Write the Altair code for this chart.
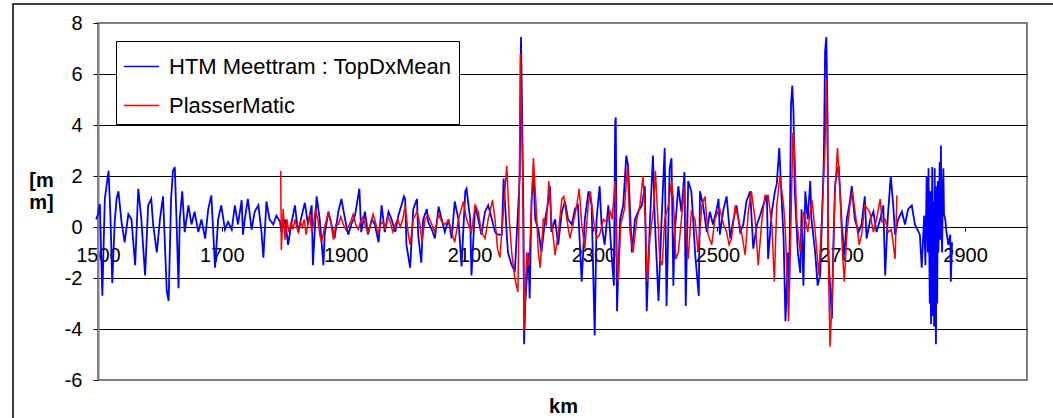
import altair as alt
import pandas as pd

BLUE_NAME = "HTM Meettram : TopDxMean"
RED_NAME = "PlasserMatic"

blue_km = [1497, 1500, 1503, 1507, 1511, 1517, 1520, 1523, 1527, 1530, 1533, 1538, 1543, 1549, 1554, 1560, 1562,
           1565, 1570, 1576, 1581, 1586, 1589, 1595, 1600, 1605, 1611, 1614, 1618, 1621, 1624, 1627, 1630, 1632,
           1636, 1640, 1646, 1651, 1656, 1662, 1667, 1673, 1678, 1683, 1689, 1694, 1699, 1705, 1710, 1716, 1721,
           1726, 1732, 1734, 1737, 1742, 1748, 1753, 1759, 1764, 1767, 1772, 1777, 1783, 1788, 1794, 1796, 1802,
           1807, 1812, 1818, 1823, 1829, 1834, 1839, 1845, 1847, 1853, 1858, 1864, 1866, 1872, 1877, 1882, 1888,
           1893, 1899, 1904, 1909, 1915, 1922, 1925, 1931, 1936, 1942, 1947, 1953, 1958, 1963, 1969, 1974, 1980,
           1985, 1990, 1994,
           1996, 1998, 2004, 2009, 2015, 2017, 2022, 2025, 2031, 2033, 2039, 2044, 2050, 2055, 2060, 2066, 2071,
           2076, 2082, 2087, 2093, 2095, 2101, 2103, 2109, 2114, 2119, 2125, 2130, 2136, 2141, 2146, 2152, 2155,
           2160, 2162, 2168, 2173, 2179, 2181, 2183, 2185, 2187, 2188, 2190, 2195, 2197, 2200, 2203, 2206, 2211,
           2216, 2222, 2227, 2230, 2232, 2238, 2243, 2249, 2254, 2259, 2265, 2270, 2275, 2281, 2286, 2292, 2297,
           2302, 2305, 2310, 2313, 2318, 2324, 2329, 2333, 2335, 2336, 2338, 2343, 2348, 2353, 2356, 2362, 2367,
           2372, 2378, 2383, 2386, 2391, 2396, 2399, 2405, 2410, 2415, 2418, 2423, 2426, 2429, 2431, 2437, 2442,
           2447, 2449, 2453, 2458, 2461, 2464, 2470, 2472, 2477, 2483, 2488, 2493, 2499,
           2502, 2504, 2510, 2515, 2521, 2526, 2531, 2537, 2542, 2547, 2553, 2558, 2564, 2569, 2574, 2580, 2582,
           2588, 2593, 2596, 2600, 2604, 2607, 2610, 2614, 2616, 2619, 2621, 2623, 2625, 2630, 2634, 2636, 2639,
           2642, 2646, 2650, 2652, 2658, 2662, 2666, 2669, 2672, 2674, 2676, 2678, 2679, 2682, 2685, 2687, 2690,
           2693, 2696, 2701, 2705, 2709, 2714, 2717, 2722, 2728, 2733, 2738, 2741, 2747, 2752, 2757, 2763, 2768,
           2771, 2775, 2780, 2784, 2787, 2792, 2798, 2803, 2808, 2814, 2819, 2825, 2827, 2830, 2834, 2836, 2838,
           2840, 2841, 2843, 2844, 2845, 2847, 2848, 2849, 2850, 2851, 2852, 2853, 2854, 2855, 2856, 2857, 2859,
           2860, 2861, 2862, 2863, 2864, 2865, 2866, 2868, 2870, 2873, 2876, 2877, 2879]
blue_mm = [0.3, 0.5, 0.9, -2.7, 1.1, 2.2, 0.5, -2.2, 0.2, 1.1, 1.4, 0.2, -0.6, 0.5, 0.3, -1.5, -0.3,
           1.5, 0.3, -1.9, 0.85, 1.1, 0.1, -1.0, 0.3, 1.2, -2.5, -2.9, 1.1, 2.2, 2.35, 0.1, -2.4, 0.3,
           1.4, -0.2, 0.85, 0.1, 0.6, -0.2, 0.3, -0.45, 0.7, 1.24, -1.6, 0.3, 0.85, -0.1, 0.2, -0.1, 0.85,
           0.1, 1.05, -0.3, 0.3, 1.1, -0.1, 0.6, 0.85, -0.2, -1.2, 1.0, 0.3, 0.1, 0.45, 0.2, -0.2, 0.3,
           -0.7, 0.1, 0.85, -0.2, 0.45, 0.95, 0.1, 0.85, -1.5, 1.2, 0.3, -1.5, -0.3, 0.6, 0.1, -0.45, 0.6,
           1.1, 0.3, -0.3, 0.1, 0.45, 1.5, -0.2, 0.6, -0.3, 0.3, 0.1, -0.6, 0.85, -0.2, 0.6, 0.3, -0.2,
           0.45, 0.85, 1.2,
           1.1, -0.7, -1.6, 0.7, 1.1, -0.3, -1.4, 0.3, 0.7, 0.2, -0.1, -0.45, 0.8, 0.3, -0.2, 0.3, -0.45,
           1.0, 0.3, -1.55, 1.4, 1.5, 0.3, -1.9, 0.85, 0.3, -0.3, 0.6, 0.85, 0.3, -0.2, -0.3, -0.3, 1.9,
           -0.3, -1.0, -1.5, -1.75, 1.0, 2.0, 7.45, 4.2, 0.3, -4.6, -2.95, -1.0, -2.8, 1.0, 2.15, 0.3, -0.1,
           -1.0, 0.3, 1.0, 1.6, -0.2, 0.3, -0.7, 0.6, 1.0, 0.3, 0.1, 0.7, 0.85, -2.15, 0.3, 1.4, 0.85,
           -4.25, 0.3, 1.6, 0.1, -0.7, 0.85, -1.0, -2.3, 4.1, 4.3, -3.3, 0.3, 0.85, 2.8, 2.4, -1.0, 0.3,
           0.6, 0.85, 1.6, -3.3, 0.1, 2.8, 0.3, -2.9, 0.3, 3.1, -3.1, 2.3, 2.7, -2.3, -0.3, 1.6, 0.6,
           2.15, -3.1, 1.8, 1.4, 0.3, -1.0, -2.7, 1.4, 0.85, -0.2, 0.6, 0.1, 0.7,
           1.1, -0.3, 0.7, 1.2, -0.45, 0.3, 0.85, -0.2, 0.1, 1.0, 1.4, -0.85, 0.1, 0.45, 0.85, 1.24, -1.25,
           0.6, 1.4, 1.7, 3.1, 1.0, -0.45, -3.7, -1.0, -2.55, 4.8, 5.55, 4.5, 1.4, -1.0, -1.8, 0.7, -2.3,
           1.4, 0.3, 1.8, 0.3, -1.0, -2.3, -1.9, 0.3, 2.7, 6.9, 7.45, 4.2, -1.0, -2.3, -3.6, -1.0, 1.6,
           2.15, 2.4, 0.1, -1.1, 0.3, 1.0, 1.6, 0.3, -0.2, 0.1, 1.2, -0.45, 0.3, 0.6, -0.2, 0.3, 0.85,
           -1.9, 0.3, 2.0, 0.85, -0.3, 0.3, 0.6, 0.1, 0.7, 0.85, 0.1, -0.2, -0.3, -1.6, 0.45, -1.5, 2.0,
           -1.0, 2.3, -3.0, 1.4, -3.8, 2.35, -3.5, 1.0, -3.9, 2.3, -2.5, -4.6, 1.6, -3.0, 1.8, -1.0, 2.55,
           -0.5, 3.2, 0.0, -1.0, 1.5, 2.3, 0.5, 0.3, -0.2, -0.7, -0.3, -2.15, -0.6]

red_km = [1795, 1796, 1799, 1802, 1805, 1808, 1812, 1815, 1818, 1821, 1824, 1827, 1830, 1833, 1836, 1839, 1842,
          1845, 1848, 1851, 1855, 1858, 1861, 1865, 1869, 1872, 1876, 1880, 1884, 1888, 1892, 1896, 1900, 1904,
          1908, 1912, 1916, 1920, 1924, 1928, 1932, 1936, 1940, 1944, 1948, 1952, 1956, 1960, 1964, 1968, 1972,
          1976, 1980, 1984, 1988, 1992,
          1996, 2001, 2004, 2009, 2015, 2020, 2023, 2028, 2033, 2039, 2044, 2050, 2055, 2060, 2066, 2071, 2076,
          2082, 2090, 2095, 2098, 2103, 2109, 2114, 2119, 2125, 2130, 2137, 2141, 2145, 2149, 2154, 2160, 2164,
          2168, 2173, 2178, 2180, 2182, 2185, 2187, 2188, 2192, 2196, 2199, 2203, 2207, 2211, 2214, 2219, 2224,
          2228, 2232, 2238, 2243, 2249, 2252, 2257, 2262, 2267, 2273, 2277, 2281, 2286, 2292, 2295, 2300, 2305,
          2310, 2316, 2321, 2327, 2330, 2335, 2337, 2340, 2344, 2350, 2355, 2359, 2364, 2370, 2375, 2380, 2384,
          2387, 2391, 2397, 2400, 2404, 2407, 2411, 2415, 2421, 2426, 2429, 2433, 2437, 2442, 2447, 2450, 2453,
          2458, 2464, 2469, 2475, 2480, 2485, 2491, 2496, 2501,
          2504, 2510, 2515, 2519, 2523, 2529, 2534, 2539, 2545, 2550, 2555, 2561, 2566, 2572, 2577, 2582, 2588,
          2592, 2596, 2601, 2607, 2610, 2615, 2619, 2622, 2625, 2628, 2634, 2639, 2643, 2646, 2650, 2653, 2658,
          2664, 2670, 2674, 2676, 2678, 2680, 2682, 2686, 2690, 2694, 2698, 2702, 2705, 2709, 2714, 2718, 2721,
          2725, 2729, 2733, 2738, 2743, 2746, 2752, 2757, 2763, 2766, 2771, 2776, 2781, 2787, 2790]
red_mm = [2.2, -0.9, 0.7, -0.5, 0.3, -0.2, 0.2, -0.1, 0.3, 0.0, -0.2, 0.2, 0.0, 0.3, -0.3, 0.1, 0.5,
          -0.2, 0.1, 0.7, 0.3, -0.3, -0.6, -0.1, 0.3, 0.6, 0.2, -0.5, 0.1, 0.1, 0.4, 0.1, -0.1, 0.0,
          0.2, 0.5, 0.1, -0.1, 0.2, 0.4, 0.0, -0.2, 0.1, 0.5, 0.2, -0.3, 0.1, 0.2, -0.1, 0.4, 0.2,
          -0.2, 0.1, 0.3, 0.0, 0.3,
          0.85, -0.3, -0.7, 0.3, 0.6, 0.1, -0.6, 0.3, 0.45, 0.1, -0.2, 0.5, 0.2, 0.1, 0.25, -0.2, -0.6,
          0.3, 1.0, 0.3, 0.1, -0.2, 0.85, 0.6, -0.2, -0.45, 0.3, 1.05, 0.3, -0.85, -1.2, 0.45, 2.4, 0.3,
          -1.0, -2.0, -2.55, 0.85, 6.8, 2.9, -1.0, -4.1, -1.0, -1.5, 0.3, 2.7, 1.0, -1.0, -1.6, 0.3, 0.1,
          1.8, 0.3, -1.1, -0.3, 1.1, 1.2, 0.3, -0.45, 0.1, 0.85, 1.5, 0.1, -0.85, 1.0, 1.4, 0.3, -0.45,
          -0.3, 0.3, 0.2, 0.6, 0.3, 1.8, -1.0, -2.15, 0.1, 0.7, 2.4, -0.2, -1.0, 0.3, 0.85, 2.0, 0.1,
          -2.15, -0.45, 0.7, 2.2, 0.3, -1.25, -1.5, 0.3, 0.85, 1.8, 1.1, -1.25, -1.0, 0.3, 1.6, -0.3, -1.25,
          0.6, 0.3, -1.0, 0.85, 1.2, -0.3, -0.7, 0.3, 0.6,
          0.7, 0.1, -0.2, -0.7, -0.45, 0.85, 0.3, -0.2, -1.1, 0.6, 1.4, 0.3, -1.5, 0.3, 1.24, 1.24, 0.1,
          -2.15, 0.85, 2.0, 0.85, -0.2, -3.7, 0.3, 3.7, 2.9, 0.3, -1.0, 0.6, 0.2, -0.2, 0.6, 1.05, -0.2,
          -1.9, 1.0, 3.2, 5.8, 2.9, -2.3, -4.7, -2.3, 1.4, 3.1, 1.4, -1.0, -2.15, -0.3, 0.85, 1.4, 0.85,
          0.1, -0.7, -0.3, 0.85, 0.7, 0.6, -0.2, 0.3, 1.1, 0.2, 0.3, -0.2, -0.1, -1.25, 1.24]

x_ticks = [1500, 1700, 1900, 2100, 2300, 2500, 2700, 2900]
y_ticks = [-6, -4, -2, 0, 2, 4, 6, 8]

blue_df = pd.DataFrame({"km": blue_km, "mm": blue_mm, "series": BLUE_NAME})
red_df = pd.DataFrame({"km": red_km, "mm": red_mm, "series": RED_NAME})

FONT = "Liberation Sans"
W, H = 929, 357

color = alt.Color(
    "series:N",
    scale=alt.Scale(domain=[BLUE_NAME, RED_NAME], range=["#0000FF", "#FF0000"]),
    legend=alt.Legend(
        title=None, orient="none", legendX=18, legendY=18,
        symbolType="stroke", symbolSize=1225, symbolStrokeWidth=1.5,
        labelFont=FONT, labelFontSize=22, labelColor="black", labelOffset=9,
        labelLimit=400,
        rowPadding=9, padding=7,
        strokeColor="black", fillColor="white",
    ),
)

x_enc = alt.X(
    "km:Q",
    scale=alt.Scale(domain=[1500, 3000], nice=False, zero=False),
    axis=alt.Axis(
        values=x_ticks, format="d", offset=-153, grid=False,
        domainColor="black", domainWidth=1, tickColor="black", tickSize=4,
        labelFont=FONT, labelFontSize=20, labelColor="black", labelPadding=14,
        labelOverlap=False, labelFlush=False,
        title="km", titleFont=FONT, titleFontSize=20, titleFontWeight="bold",
        titleColor="black", titleX=465, titleY=185, titleBaseline="alphabetic",
        titleAnchor="start", titleAlign="center",
    ),
)
y_enc = alt.Y(
    "mm:Q",
    scale=alt.Scale(domain=[-6, 8], nice=False, zero=False),
    axis=alt.Axis(
        values=y_ticks, grid=True,
        gridColor={"condition": {"test": "datum.value == 8 || datum.value == -6", "value": "#808080"}, "value": "black"},
        gridWidth=1,
        domainColor="#808080", domainWidth=2, tickColor="black", tickSize=5,
        labelFont=FONT, labelFontSize=20, labelColor="black", labelPadding=11,
        labelExpr="'' + datum.value",
        title=["[m", "m]"], titleFont=FONT, titleFontSize=20, titleFontWeight="bold",
        titleColor="black", titleAngle=0, titleX=-57, titleY=163, titleAlign="center",
        titleBaseline="alphabetic", titleLineHeight=22,
    ),
)

blue_line = alt.Chart(blue_df).mark_line(strokeWidth=1.8).encode(x=x_enc, y=y_enc, color=color)
red_line = alt.Chart(red_df).mark_line(strokeWidth=1.5).encode(x=x_enc, y=y_enc, color=color)

frame = alt.Chart(pd.DataFrame({"k": [0]})).mark_rect(
    fill=None, stroke="black", strokeWidth=1.5
).encode(x=alt.value(-85), x2=alt.value(970), y=alt.value(-19), y2=alt.value(420))

chart = alt.layer(frame, blue_line, red_line).properties(
    width=W, height=H,
    autosize=alt.AutoSizeParams(type="none"),
    padding={"left": 98, "top": 23, "right": 26, "bottom": 38},
    background="white",
).configure_view(stroke="#808080", strokeWidth=2)

chart.save("out.html", embed_options={"renderer": "svg", "actions": False})
